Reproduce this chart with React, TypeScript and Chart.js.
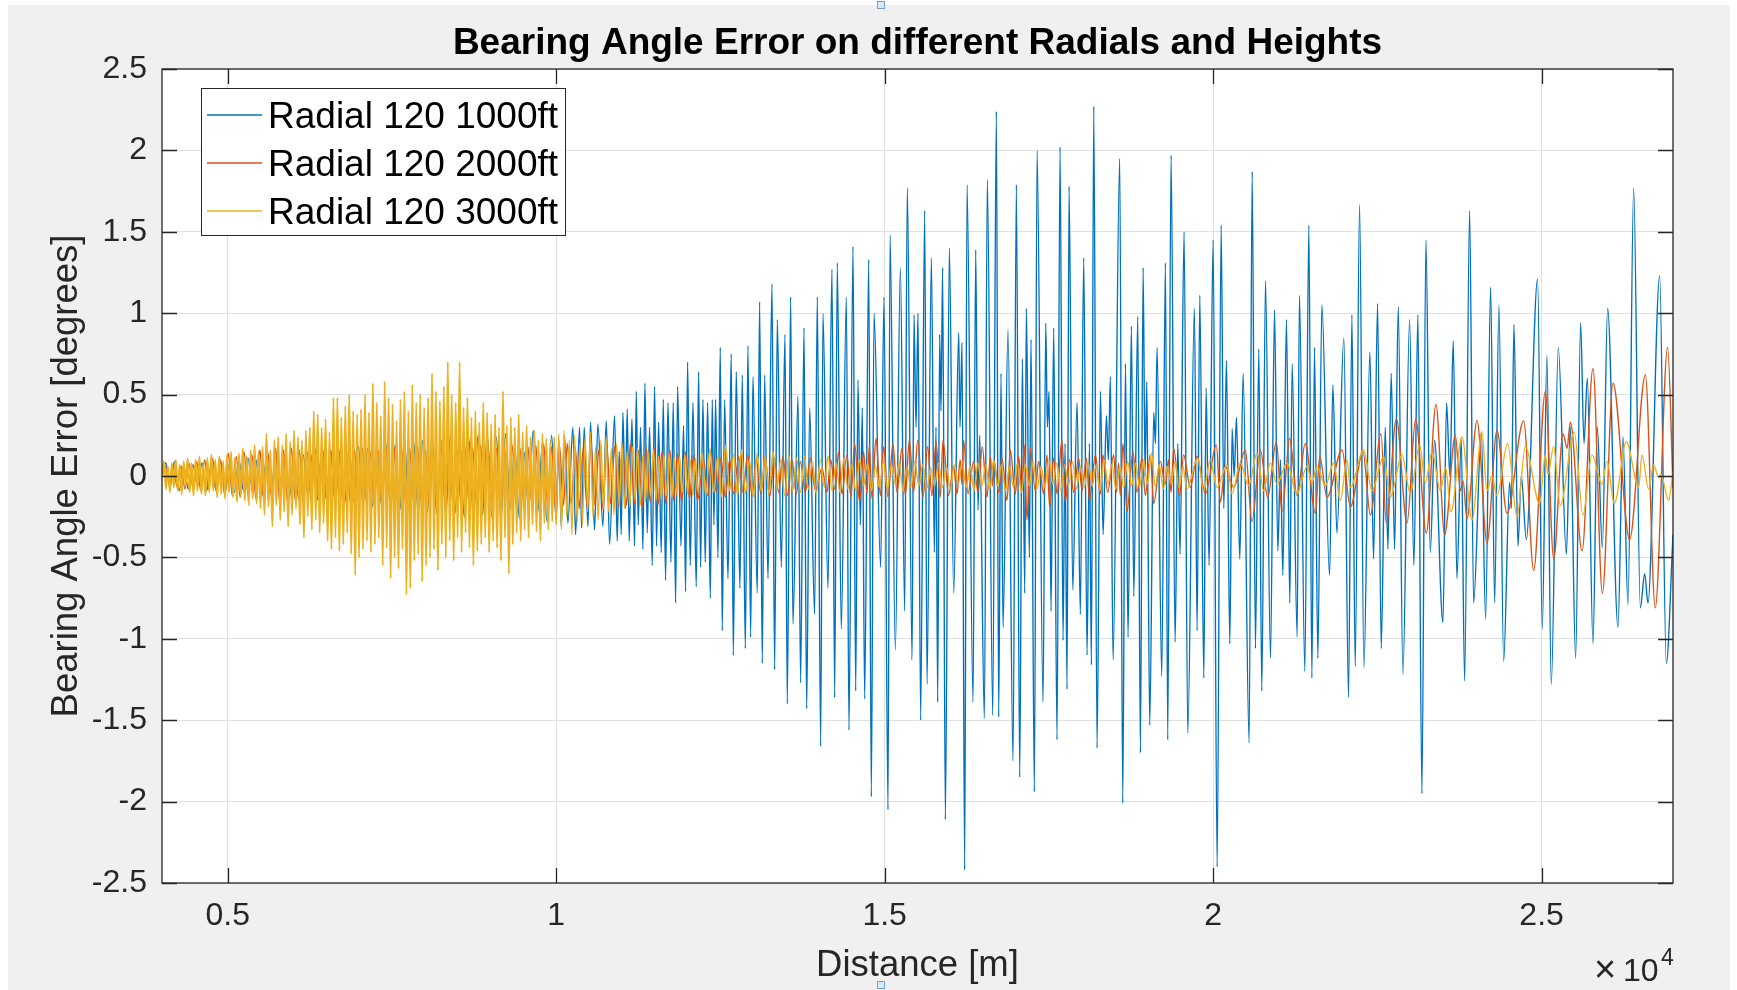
import React, { useEffect, useRef } from "react";
import { Chart, registerables } from "chart.js";

Chart.register(...registerables);

const FONT = '"Liberation Sans", Arial, Helvetica, sans-serif';
const AXIS_COLOR = "#262626";

const titleText = "Bearing Angle Error on different Radials and Heights";
const xAxisLabel = "Distance [m]";
const yAxisLabel = "Bearing Angle Error [degrees]";
const seriesNames = ["Radial 120 1000ft", "Radial 120 2000ft", "Radial 120 3000ft"];
const seriesColors = ["#0072BD", "#D95319", "#EDB120"];

const xTicks = [5000, 10000, 15000, 20000, 25000];
const xTickLabels = ["0.5", "1", "1.5", "2", "2.5"];
const yTicks = [-2.5, -2, -1.5, -1, -0.5, 0, 0.5, 1, 1.5, 2, 2.5];
const xMin = 4000;
const xMax = 27000;
const yMin = -2.5;
const yMax = 2.5;

// Radial 120 1000ft : [distance m, error deg]
const blue1000: [number, number][] = [
[4000,0.02],[4060,0.08],[4120,-0.07],[4190,0.09],[4260,-0.09],[4330,0.06],[4400,-0.08],[4470,0.07],[4540,-0.06],[4610,0.08],[4680,-0.09],[4750,0.07],[4820,-0.08],[4890,0.09],[4960,-0.1],[5030,0.08],[5100,-0.1],[5170,0.1],[5240,-0.09],[5310,0.11],[5380,-0.1],[5450,0.1],[5520,-0.12],[5590,0.11],[5660,-0.1],[5730,0.12],[5800,-0.12],[5870,0.12],[5940,-0.13],[6010,0.11],[6080,-0.14],[6150,0.13],[6220,-0.12],[6290,0.14],[6360,-0.15],[6430,0.15],[6500,-0.14],[6570,0.16],[6640,-0.15],[6710,0.15],[6780,-0.17],[6850,0.16],[6920,-0.16],[6990,0.18],[7060,-0.17],[7130,0.17],[7200,-0.19],[7270,0.19],[7340,-0.18],[7410,0.2],[7480,-0.2],[7550,0.19],[7620,-0.21],[7690,0.22],[7760,-0.2],[7830,0.21],[7900,-0.23],[7970,0.22],[8040,-0.22],[8110,0.24],[8180,-0.23],[8250,0.22],[8320,-0.24],[8390,0.25],[8460,-0.23],[8530,0.24],[8600,-0.25],[8670,0.23],[8740,-0.26],[8810,0.25],[8880,-0.24],[8950,0.26],[9020,-0.25],[9090,0.24],[9160,-0.27],[9230,0.26],[9300,-0.2],[9370,0.17],[9440,-0.26],[9510,0.15],[9580,-0.2],[9650,0.28],[9720,-0.22],[9790,0.2],[9860,-0.28],[9930,0.25],[10000,-0.27],[10040,0.22],
[10077,-0.31],[10127,0.25],[10178,-0.29],[10254,0.30],[10295,-0.36],[10356,0.30],[10386,-0.32],[10427,0.30],[10483,-0.31],[10523,0.33],[10584,-0.33],[10635,0.32],[10711,-0.31],[10762,0.34],[10813,-0.42],[10889,0.37],[10929,-0.40],[10960,0.15],[10990,-0.36],[11016,0.39],[11051,-0.2],[11082,0.41],[11112,-0.40],[11153,0.35],[11193,-0.43],[11219,0.52],[11249,-0.3],[11285,0.30],[11320,-0.45],[11351,0.57],[11386,-0.35],[11422,0.30],[11462,-0.55],[11498,0.55],[11528,-0.43],[11559,0.33],[11599,-0.47],[11630,0.47],[11665,-0.64],[11701,0.45],[11747,-0.53],[11782,0.45],[11818,-0.78],[11848,0.55],[11899,-0.43],[11939,0.31],[11970,-0.71],[12000,0.70],[12041,-0.55],[12082,0.45],[12132,-0.68],[12168,0.64],[12198,-0.56],[12234,0.47],[12269,-0.53],[12305,0.45],[12346,-0.75],[12376,0.47],[12401,-0.3],[12427,0.47],[12462,-0.50],[12498,0.79],[12528,-0.95],[12564,0.47],[12615,-0.63],[12665,0.75],[12696,-1.10],[12741,0.64],[12797,-0.69],[12833,0.62],[12879,-1.06],[12919,0.80],[12960,-0.99],[12995,0.61],[13061,-0.72],[13097,1.07],[13137,-1.15],[13173,0.62],[13224,-0.63],[13285,1.18],[13325,-1.19],[13366,0.96],[13427,-0.56],[13483,0.87],[13518,-1.40],[13569,1.10],[13604,-0.91],[13681,0.49],[13721,-1.27],[13772,0.91],[13813,-1.43],[13858,0.42],[13934,-0.85],[13975,1.10],[14026,-1.66],[14061,1.00],[14137,-0.69],[14198,1.27],[14239,-1.36],[14279,1.31],[14340,-0.94],[14417,1.10],[14457,-1.56],[14518,1.41],[14559,-1.32],[14594,0.59],[14630,-0.3],[14660,0.42],[14696,-1.37],[14757,1.33],[14797,-1.97],[14838,1.00],[14939,-0.56],[14990,1.10],[15051,-2.05],[15082,1.48],[15163,-1.07],[15239,1.28],[15305,-0.83],[15345,1.77],[15417,-1.13],[15447,0.99],[15478,0.3],[15508,1.00],[15548,-1.50],[15609,1.63],
[15645,-1.28],[15711,1.34],[15756,-0.47],[15782,0.3],[15807,-1.39],[15837,0.87],[15858,0.4],[15883,1.28],[15924,-2.11],[15985,1.40],[16051,-0.72],[16127,0.88],[16147,0.3],[16178,0.82],[16218,-2.42],[16254,1.79],[16345,-1.39],[16386,1.39],[16421,-0.21],[16447,0.25],[16518,-1.49],[16563,1.82],[16645,-1.47],[16700,2.24],[16736,-1.48],[16771,0.63],[16802,-0.93],[16878,0.90],[16954,-1.75],[17005,1.79],[17056,-1.85],[17096,0.72],[17132,-0.72],[17157,1.03],[17203,-0.50],[17228,0.84],[17279,-1.94],[17320,2.00],[17411,-1.39],[17452,0.94],[17477,0.3],[17502,0.52],[17533,-0.83],[17573,0.91],[17624,-1.62],[17670,2.02],[17715,-1.01],[17746,0.2],[17776,-1.31],[17807,1.78],[17863,-0.70],[17929,0.45],[17979,-0.85],[18030,1.34],[18081,-1.10],[18117,0.2],[18147,-1.16],[18183,2.27],[18233,-1.67],[18284,0.52],[18325,-0.36],[18375,0.37],[18406,0.1],[18436,0.61],[18477,-1.13],[18578,1.95],[18624,-2.01],[18665,0.69],[18705,-0.99],[18756,0.92],[18792,-0.74],[18853,0.98],[18893,-1.70],[18934,1.28],[18964,0.0],[18990,0.58],[19035,-1.53],[19096,0.39],[19122,0.2],[19147,0.79],[19218,-1.23],[19274,1.31],[19309,-1.62],[19360,1.97],[19421,-1.02],[19462,0.2],[19497,-0.48],[19558,1.50],[19614,-1.58],[19715,1.03],[19756,-0.95],[19797,1.11],[19858,-1.24],[19893,0.54],[19939,-0.55],[20000,1.45],[20061,-2.40],[20122,1.54],[20162,-0.2],[20203,0.71],[20254,-1.03],[20289,0.29],[20320,0.0],[20355,0.36],[20406,-0.51],[20457,0.63],[20548,-1.64],[20594,1.87],[20644,-1.06],[20695,0.78],[20741,-1.32],[20797,1.20],[20873,-1.12],[20934,1.02],[20985,-0.46],[21025,0.1],[21061,-0.61],[21116,0.96],[21167,-0.78],[21203,0.69],[21279,-0.99],[21314,1.11],[21396,-1.20],[21457,1.54],
[21503,-1.24],[21543,0.79],[21594,-1.12],[21655,1.05],[21772,-0.61],[21823,0.56],[21884,-0.35],[21990,0.85],[22061,-1.36],[22112,0.99],[22163,-1.17],[22229,1.67],[22295,-1.18],[22386,0.76],[22442,-0.51],[22503,1.06],[22559,-1.06],[22620,0.30],[22660,-0.45],[22711,0.63],[22762,-0.45],[22818,1.04],[22889,-1.22],[22990,0.96],[23056,-0.55],[23117,0.99],[23178,-1.95],[23239,1.45],[23305,-0.47],[23371,0.22],[23498,-0.90],[23553,0.45],[23604,0.0],[23655,0.83],[23711,-0.63],[23777,0.23],[23828,-1.26],[23904,1.63],[23965,-0.78],[24082,0.27],[24148,-0.88],[24224,1.16],[24285,-0.78],[24350,1.05],[24422,-1.14],[24513,-0.04],[24540,-0.2],[24579,0.93],[24640,-0.43],[24691,0.0],[24767,-0.39],[24939,1.21],[25010,-0.94],[25081,0.74],[25147,-1.28],[25254,0.79],[25376,-0.48],[25437,0.3],[25518,-1.12],[25594,0.94],[25645,0.2],[25696,0.60],[25782,-1.03],[25848,0.3],[25924,-0.44],[26005,1.03],[26162,-0.93],[26238,0.24],[26315,-0.79],[26401,1.77],[26503,-0.81],[26569,-0.6],[26619,-0.78],[26797,1.23],[26898,-1.15],[27000,-0.36]
];

// Radial 120 2000ft
const orange2000: [number, number][] = [
[4000,0.0],[4050,0.06],[4110,-0.05],[4170,0.07],[4230,-0.07],[4290,0.06],[4350,-0.08],[4410,0.08],[4470,-0.07],[4530,0.09],[4590,-0.09],[4650,0.1],[4710,-0.08],[4770,0.11],[4830,-0.1],[4890,0.1],[4950,-0.11],[5010,0.14],[5070,-0.12],[5130,0.12],[5190,-0.13],[5250,0.15],[5310,-0.12],[5370,0.13],[5430,-0.14],[5490,0.16],[5550,-0.15],[5610,0.15],[5670,-0.14],[5730,0.17],[5790,-0.15],[5850,0.16],[5910,-0.16],[5970,0.17],[6030,-0.15],[6090,0.16],[6150,-0.17],[6210,0.15],[6270,-0.16],[6330,0.17],[6390,-0.15],[6450,0.16],[6510,-0.17],[6570,0.15],[6630,-0.16],[6690,0.17],[6750,-0.16],[6810,0.15],[6870,-0.17],[6930,0.16],[6990,-0.15],[7050,0.17],[7110,-0.16],[7170,0.15],[7230,-0.18],[7290,0.16],[7350,-0.17],[7410,0.17],[7470,-0.16],[7530,0.18],[7590,-0.17],[7650,0.16],[7710,-0.18],[7770,0.17],[7830,-0.16],[7890,0.18],[7950,-0.17],[8010,0.16],[8070,-0.18],[8130,0.17],[8190,-0.17],[8250,0.18],[8310,-0.16],[8370,0.17],[8430,-0.18],[8490,0.16],[8550,-0.17],[8610,0.18],[8670,-0.16],[8730,0.17],[8790,-0.18],[8850,0.19],[8910,-0.17],[8970,0.16],[9030,-0.18],[9090,0.17],[9150,-0.19],[9210,0.18],[9270,-0.17],[9330,0.19],[9390,-0.18],[9450,0.17],[9510,-0.2],[9570,0.18],[9630,-0.17],[9690,0.19],[9750,-0.18],[9810,0.2],[9870,-0.19],[9930,0.18],[9990,-0.2],
[10050,0.19],[10110,-0.18],[10170,0.2],[10230,-0.17],[10290,0.18],[10350,-0.2],[10410,0.17],[10470,-0.19],[10530,0.2],[10590,-0.18],[10650,0.16],[10710,-0.2],[10770,0.19],[10830,-0.17],[10890,0.18],[10950,-0.19],[11010,0.17],[11070,-0.18],[11130,0.2],[11190,-0.17],[11250,0.16],[11310,-0.19],[11370,0.18],[11430,-0.16],[11490,0.17],[11550,-0.18],[11610,0.15],[11670,-0.17],[11730,0.16],[11790,-0.15],[11850,0.14],[11910,-0.16],[11970,0.15],[12030,-0.14],[12090,0.13],[12150,-0.15],
[12245,0.10],[12306,-0.12],[12372,0.12],[12438,-0.10],[12509,0.11],[12575,-0.13],[12641,0.10],[12701,-0.11],[12778,0.12],[12843,-0.10],[12915,0.13],[12981,-0.12],[13046,0.10],[13117,-0.11],[13183,0.12],[13249,-0.13],[13320,0.11],[13386,-0.10],[13452,0.12],[13523,-0.12],[13589,0.10],[13655,-0.11],[13716,0.09],[13792,-0.10],[13868,0.11],[13945,-0.09],[14046,0.05],[14122,-0.10],[14180,0.10],[14240,-0.08],[14300,0.15],[14350,-0.11],[14427,0.13],[14487,-0.13],[14543,0.20],[14619,-0.16],[14680,0.15],[14731,-0.11],[14767,0.19],[14807,-0.14],[14868,0.23],[14934,-0.12],[14985,0.18],[15051,-0.13],[15127,0.20],[15188,-0.10],[15264,0.17],[15315,-0.12],[15375,0.22],[15441,-0.10],[15502,0.22],[15583,-0.13],[15654,0.18],[15720,-0.12],[15781,0.21],[15847,-0.13],[15888,0.22],[15974,-0.12],[16050,0.06],[16101,-0.11],[16150,0.10],[16175,-0.05],[16202,0.22],[16268,-0.11],[16355,0.09],[16421,-0.10],[16486,0.18],[16558,-0.13],[16610,0.12],[16640,-0.06],[16669,0.09],[16735,-0.10],[16786,0.11],[16862,-0.15],[16913,0.16],[16989,-0.11],[17040,0.12],[17085,-0.10],[17126,0.19],[17166,-0.27],[17217,0.17],[17293,-0.09],[17344,0.09],[17420,-0.11],[17471,0.13],[17511,-0.19],[17572,0.11],[17623,-0.11],[17699,0.22],[17750,-0.16],[17816,0.10],[17876,-0.10],[17953,0.11],[18004,-0.09],[18070,0.11],[18120,-0.15],[18207,0.13],[18283,-0.11],[18323,0.13],[18395,-0.10],[18486,0.13],[18530,-0.10],[18560,0.08],[18587,-0.12],[18628,0.20],[18689,-0.22],[18780,0.15],[18841,-0.10],[18917,0.11],[18968,-0.12],[19044,0.13],[19095,-0.17],[19196,0.09],[19272,-0.05],[19320,0.10],[19360,-0.10],[19399,0.17],[19490,-0.12],[19551,0.13],[19653,-0.07],
[19754,0.12],[19881,-0.11],[20049,0.19],[20110,-0.16],[20186,0.06],[20313,-0.07],[20490,0.16],[20592,-0.28],[20719,0.16],[20830,-0.13],[20962,0.21],[21048,-0.22],[21165,0.23],[21277,-0.12],[21403,0.20],[21556,-0.23],[21622,0.12],[21733,-0.13],[21962,0.16],[22089,-0.19],[22281,0.15],[22393,-0.24],[22555,0.26],[22636,-0.29],[22789,0.35],[22951,-0.29],[23083,0.35],[23245,-0.35],[23392,0.44],[23524,-0.36],[23687,0.25],[23763,-0.09],[23804,-0.03],[23864,-0.26],[24017,0.34],[24169,-0.41],[24321,0.28],[24473,-0.23],[24727,0.34],[24879,-0.58],[25057,0.52],[25184,-0.51],[25326,0.26],[25387,0.17],[25437,0.33],[25615,-0.46],[25782,0.66],[25925,-0.72],[26087,0.57],[26340,-0.39],[26579,0.62],[26730,-0.81],[26918,0.79],[27000,-0.07]
];

// Radial 120 3000ft
const yellow3000: [number, number][] = [
[4000,0.00],[4030,0.09],[4060,-0.08],[4090,0.06],[4120,-0.10],[4150,0.08],[4180,-0.07],[4210,0.10],[4240,-0.09],[4270,0.07],[4300,-0.11],[4330,0.09],[4360,-0.06],[4390,0.11],[4420,-0.10],[4450,0.08],[4480,-0.12],[4510,0.10],[4540,-0.09],[4570,0.12],[4600,-0.11],[4630,0.07],[4660,-0.12],[4690,0.11],[4720,-0.10],[4750,0.13],[4780,-0.09],[4810,0.10],[4840,-0.13],[4870,0.12],[4900,-0.11],[4930,0.09],[4960,-0.14],[4990,0.13],[5020,-0.10],[5050,0.15],[5080,-0.13],[5110,0.11],[5140,-0.16],[5170,0.14],[5200,-0.12],[5230,0.17],[5260,-0.15],[5290,0.12],[5320,-0.18],[5350,0.16],[5380,-0.14],[5410,0.19],[5440,-0.17],[5470,0.15],[5500,-0.20],[5530,0.18],[5560,-0.24],[5590,0.26],[5620,-0.19],[5650,0.16],[5680,-0.31],[5710,0.22],[5740,-0.18],[5770,0.24],[5800,-0.27],[5830,0.19],[5860,-0.22],[5890,0.26],[5920,-0.31],[5950,0.21],[5980,-0.24],[6010,0.28],[6040,-0.20],[6070,0.24],[6100,-0.30],[6130,0.22],[6160,-0.38],[6190,0.28],[6220,-0.25],[6250,0.30],[6280,-0.33],[6310,0.40],[6340,-0.27],[6370,0.38],[6400,-0.35],[6430,0.30],[6460,-0.29],[6490,0.35],[6520,-0.40],[6550,0.27],[6580,-0.45],[6610,0.48],[6640,-0.38],[6670,0.48],[6700,-0.46],[6730,0.36],[6760,-0.42],[6790,0.43],[6820,-0.35],[6850,0.50],[6880,-0.48],[6910,0.40],[6940,-0.61],[6970,0.38],[7000,-0.50],[7030,0.41],[7060,-0.45],[7090,0.50],[7120,-0.40],[7150,0.39],[7180,-0.47],[7210,0.57],[7240,-0.42],[7270,0.45],[7300,-0.38],[7330,0.37],[7360,-0.55],[7390,0.58],[7420,-0.44],[7450,0.48],[7480,-0.63],[7510,0.44],[7540,-0.50],[7570,0.34],[7600,-0.57],[7630,0.47],[7660,-0.45],[7690,0.52],[7720,-0.73],[7750,0.40],[7780,-0.69],[7810,0.56],[7840,-0.52],[7870,0.45],[7900,-0.48],[7930,0.50],[7960,-0.65],[7990,0.42],[8020,-0.55],[8050,0.48],[8080,-0.50],[8110,0.63],[8140,-0.45],[8170,0.52],[8200,-0.58],[8230,0.46],[8260,-0.42],[8290,0.55],[8320,-0.50],[8350,0.70],[8380,-0.40],[8410,0.50],[8440,-0.52],[8470,0.45],[8500,-0.38],[8530,0.70],[8560,-0.47],[8590,0.42],[8620,-0.35],[8650,0.48],[8680,-0.44],[8710,0.36],[8740,-0.55],[8770,0.40],[8800,-0.46],[8830,0.33],[8860,-0.42],[8890,0.45],[8920,-0.38],[8950,0.39],[8980,-0.47],[9010,0.32],[9040,-0.40],[9070,0.38],[9100,-0.44],[9130,0.30],[9160,-0.52],[9190,0.52],[9220,-0.38],[9250,0.31],[9280,-0.60],[9310,0.36],[9340,-0.42],[9370,0.30],[9400,-0.35],[9430,0.38],[9460,-0.40],[9490,0.27],[9520,-0.33],[9550,0.31],[9580,-0.38],[9610,0.24],[9640,-0.30],[9670,0.28],[9700,-0.34],[9730,0.22],[9760,-0.40],[9790,0.26],[9820,-0.29],[9850,0.23],[9880,-0.33],[9910,0.21],[9940,-0.28],[9970,0.24],[10000,-0.30],
[10040,0.26],[10080,-0.33],[10120,0.28],[10160,-0.25],[10200,0.22],[10240,-0.36],[10280,0.25],[10320,-0.28],[10360,0.20],[10400,-0.30],[10440,0.24],[10480,-0.22],[10520,0.27],[10560,-0.25],[10600,0.18],[10640,-0.27],[10680,0.22],[10720,-0.20],[10760,0.24],[10800,-0.22],[10840,0.17],[10880,-0.24],[10920,0.20],[10960,-0.18],[11000,0.21],[11040,-0.20],[11080,0.15],[11120,-0.19],[11160,0.18],[11200,-0.15],[11240,0.17],[11280,-0.18],[11320,0.13],[11360,-0.16],[11400,0.15],[11440,-0.13],[11480,0.16],[11520,-0.15],[11560,0.12],[11600,-0.14],[11640,0.13],[11680,-0.12],[11720,0.14],[11760,-0.13],[11800,0.11],[11840,-0.12],[11880,0.12],[11920,-0.10],[11960,0.13],[12000,-0.11],[12040,0.10],[12080,-0.12],[12120,0.11],[12160,-0.10],
[12220,0.14],[12280,-0.12],[12340,0.17],[12400,-0.10],[12460,0.12],[12520,-0.13],[12580,0.19],[12640,-0.09],[12700,0.13],[12760,-0.12],[12820,0.16],[12880,-0.11],[12940,0.10],[13000,-0.13],[13060,0.14],[13120,-0.09],[13180,0.12],[13240,-0.11],[13300,0.15],[13360,-0.08],[13420,0.10],[13480,-0.12],[13540,0.13],[13600,-0.09],[13660,0.11],[13720,-0.10],[13780,0.12],[13840,-0.08],[13900,0.09],[13960,-0.11],[14020,0.10],[14080,-0.07],[14140,0.12],[14200,-0.09],[14260,0.08],[14320,-0.10],[14380,0.11],[14440,-0.08],[14500,0.07],[14560,-0.09],[14620,0.10],[14680,-0.06],[14740,0.08],[14800,-0.09],[14860,0.06],[14920,-0.07],[14980,0.09],[15040,-0.08],[15100,0.07],[15160,-0.05],[15220,0.08],[15280,-0.09],[15340,0.06],[15400,-0.07],[15460,0.09],[15520,-0.06],[15580,0.07],[15640,-0.08],[15700,0.05],[15760,-0.06],[15820,0.08],[15880,-0.07],[15940,0.06],[16000,-0.08],[16060,0.07],[16120,-0.05],[16180,0.09],[16240,-0.07],[16300,0.06],[16360,-0.09],[16420,0.08],[16480,-0.06],[16540,0.07],[16600,-0.08],[16660,0.10],[16720,-0.06],[16780,0.07],[16840,-0.09],[16900,0.06],[16960,-0.07],[17020,0.08],[17080,-0.10],[17140,0.07],[17200,-0.06],[17260,0.09],[17320,-0.08],[17380,0.06],[17440,-0.07],[17500,0.10],[17560,-0.05],[17620,0.08],[17680,-0.09],[17740,0.07],[17800,-0.06],[17860,0.09],[17920,-0.08],[17980,0.06],[18040,-0.07],[18100,0.08],[18160,-0.06],[18220,0.07],[18280,-0.09],[18340,0.10],[18400,-0.05],[18460,0.07],[18520,-0.08],[18580,0.06],[18640,-0.07],[18700,0.09],[18760,-0.06],[18820,0.08],[18880,-0.07],[18940,0.10],[19000,-0.05],[19060,0.14],[19120,-0.06],[19180,0.07],[19240,-0.08],[19300,0.06],[19360,-0.05],[19420,0.09],[19480,-0.07],[19540,0.06],[19600,-0.08],
[19765,0.11],[19856,-0.09],[19957,0.10],[20059,-0.07],[20211,0.07],[20287,-0.11],[20414,0.08],[20541,-0.06],[20668,0.14],[20769,-0.09],[20871,0.08],[20972,-0.05],[21124,0.08],[21277,-0.11],[21429,0.06],[21505,-0.04],[21581,0.06],[21708,-0.06],[21835,0.08],[21936,-0.15],[22038,0.10],[22089,-0.07],[22291,0.16],[22418,-0.09],[22596,0.12],[22697,-0.13],[22875,0.13],[23002,-0.11],[23144,0.19],[23230,-0.04],[23332,0.15],[23459,-0.09],[23540,0.05],[23620,-0.22],[23788,0.24],[23940,-0.27],[24092,0.27],[24168,-0.09],[24244,0.0],[24320,-0.12],[24483,0.20],[24625,-0.25],[24752,0.18],[24970,-0.17],[25056,0.13],[25097,0.01],[25183,0.18],[25284,-0.18],[25497,0.27],[25629,-0.24],[25766,0.13],[25919,-0.05],[25995,0.09],[26106,-0.17],[26289,0.21],[26477,-0.07],[26528,0.13],[26629,-0.08],[26705,0.07],[26781,-0.01],[26817,0.01],[26933,-0.15],[27000,0.03]
];

const seriesData = [blue1000, orange2000, yellow3000];
// the dense early part (before 1e4 m) is drawn a little heavier, as in the reference
const denseUntil = 10000;

export default function App() {
  const ref = useRef<HTMLCanvasElement | null>(null);

  useEffect(() => {
    const canvas = ref.current;
    if (!canvas) return;

    const decor = {
      id: "matlabDecor",
      beforeDraw(chart: any) {
        const { ctx, chartArea: a, width, height } = chart;
        ctx.save();
        ctx.fillStyle = "#ffffff";
        ctx.fillRect(0, 0, width, height);
        ctx.fillStyle = "#f0f0f0";
        ctx.fillRect(8, 5, 1722, 985);
        ctx.fillStyle = "#ffffff";
        ctx.fillRect(a.left, a.top, a.right - a.left, a.bottom - a.top);
        ctx.restore();
      },
      afterDatasetsDraw(chart: any) {
        const { ctx, chartArea: a, scales } = chart;
        const xs = scales.x;
        const ys = scales.y;
        ctx.save();
        ctx.strokeStyle = AXIS_COLOR;
        ctx.lineWidth = 1.3;
        const tl = 15;
        ctx.beginPath();
        xTicks.forEach((v) => {
          const px = Math.round(xs.getPixelForValue(v)) + 0.5;
          ctx.moveTo(px, a.bottom);
          ctx.lineTo(px, a.bottom - tl);
          ctx.moveTo(px, a.top);
          ctx.lineTo(px, a.top + tl);
        });
        yTicks.forEach((v) => {
          const py = Math.round(ys.getPixelForValue(v)) + 0.5;
          ctx.moveTo(a.left, py);
          ctx.lineTo(a.left + tl, py);
          ctx.moveTo(a.right, py);
          ctx.lineTo(a.right - tl, py);
        });
        ctx.stroke();
        ctx.strokeRect(a.left, a.top, a.right - a.left, a.bottom - a.top);

        // legend box
        const lx0 = 201, ly0 = 88, lx1 = 565, ly1 = 235;
        ctx.fillStyle = "#ffffff";
        ctx.fillRect(lx0, ly0, lx1 - lx0, ly1 - ly0);
        ctx.lineWidth = 1;
        ctx.strokeStyle = AXIS_COLOR;
        ctx.strokeRect(lx0 + 0.5, ly0 + 0.5, lx1 - lx0, ly1 - ly0);
        const rows = [115, 163, 211];
        ctx.font = `37px ${FONT}`;
        ctx.textAlign = "left";
        ctx.textBaseline = "alphabetic";
        seriesNames.forEach((name, i) => {
          ctx.strokeStyle = seriesColors[i];
          ctx.lineWidth = 1.5;
          ctx.beginPath();
          ctx.moveTo(207, rows[i]);
          ctx.lineTo(262, rows[i]);
          ctx.stroke();
          ctx.fillStyle = "#000000";
          ctx.fillText(name, 268, rows[i] + 13);
        });
        ctx.restore();
      },
      afterDraw(chart: any) {
        const { ctx, chartArea: a } = chart;
        const cx = (a.left + a.right) / 2;
        const cy = (a.top + a.bottom) / 2;
        ctx.save();
        ctx.fillStyle = "#000000";
        ctx.font = `bold 37px ${FONT}`;
        ctx.textAlign = "center";
        ctx.textBaseline = "middle";
        ctx.fillText(titleText, cx, 43.5);

        ctx.fillStyle = AXIS_COLOR;
        ctx.font = `36.5px ${FONT}`;
        ctx.fillText(xAxisLabel, cx, 966);

        ctx.save();
        ctx.translate(67, cy);
        ctx.rotate(-Math.PI / 2);
        ctx.fillText(yAxisLabel, 0, 0);
        ctx.restore();

        // exponent label x10^4
        ctx.textAlign = "left";
        ctx.textBaseline = "alphabetic";
        ctx.font = `38px ${FONT}`;
        ctx.fillText("\u00d7", 1594, 982);
        ctx.font = `32px ${FONT}`;
        ctx.fillText("10", 1623, 981);
        ctx.font = `23px ${FONT}`;
        ctx.fillText("4", 1661, 965);

        // figure selection handles
        ctx.fillStyle = "#dbe8f6";
        ctx.strokeStyle = "#6fa3d8";
        ctx.lineWidth = 1;
        ctx.fillRect(877, 1, 7, 7);
        ctx.strokeRect(877.5, 1.5, 7, 7);
        ctx.fillRect(877, 981, 7, 7);
        ctx.strokeRect(877.5, 981.5, 7, 7);
        ctx.restore();
      },
    };

    const datasets = seriesData.map((arr, i) => ({
      label: seriesNames[i],
      data: arr.map(([x, y]) => ({ x, y })),
      borderColor: seriesColors[i],
      backgroundColor: seriesColors[i],
      borderWidth: 1.4,
      pointRadius: 0,
      fill: false,
      cubicInterpolationMode: "monotone" as const,
      order: 3 - i,
      segment: {
        borderWidth: (c: any) =>
          i === 2 && arr[c.p0DataIndex] && arr[c.p0DataIndex][0] < denseUntil ? 2 : 1.4,
      },
    }));

    const chart = new Chart(canvas, {
      type: "line",
      data: { datasets },
      options: {
        animation: false,
        responsive: false,
        devicePixelRatio: 1,
        parsing: false,
        normalized: true,
        events: [],
        layout: { padding: { top: 69, right: 64, left: 0, bottom: 0 } },
        plugins: {
          legend: { display: false },
          title: { display: false },
          tooltip: { enabled: false },
        },
        scales: {
          x: {
            type: "linear",
            min: xMin,
            max: xMax,
            afterFit(s: any) {
              s.height = 107;
            },
            afterBuildTicks(s: any) {
              s.ticks = xTicks.map((v) => ({ value: v }));
            },
            ticks: {
              callback: (v: any) => {
                const i = xTicks.indexOf(Number(v));
                return i >= 0 ? xTickLabels[i] : "";
              },
              font: { family: FONT, size: 32 },
              color: AXIS_COLOR,
              padding: 14,
              maxRotation: 0,
              autoSkip: false,
            },
            grid: { color: "#e0e0e0", lineWidth: 1, drawTicks: false },
            border: { display: false },
          },
          y: {
            type: "linear",
            min: yMin,
            max: yMax,
            afterFit(s: any) {
              s.width = 162;
            },
            afterBuildTicks(s: any) {
              s.ticks = yTicks.map((v) => ({ value: v }));
            },
            ticks: {
              callback: (v: any) => String(v),
              font: { family: FONT, size: 32 },
              color: AXIS_COLOR,
              padding: 15,
              autoSkip: false,
            },
            grid: { color: "#e0e0e0", lineWidth: 1, drawTicks: false },
            border: { display: false },
          },
        },
      },
      plugins: [decor],
    });

    return () => chart.destroy();
  }, []);

  return (
    <canvas
      ref={ref}
      width={1737}
      height={990}
      style={{ position: "absolute", left: 0, top: 0, width: 1737, height: 990, display: "block" }}
    />
  );
}
